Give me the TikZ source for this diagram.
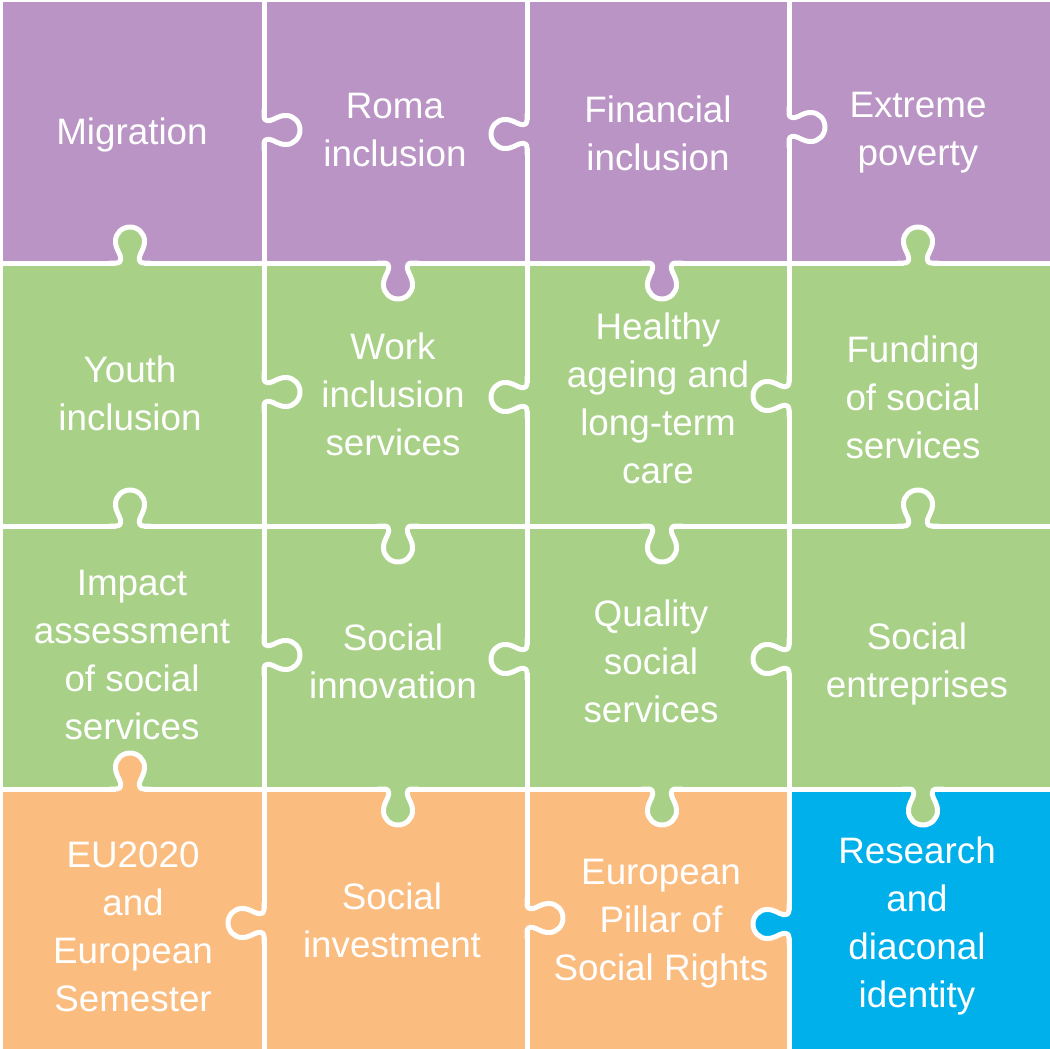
\documentclass[tikz,border=0pt]{standalone}
\usepackage{fontspec}
\setmainfont{Liberation Sans}
\definecolor{cpurple}{RGB}{185,148,196}
\definecolor{cgreen}{RGB}{168,209,135}
\definecolor{corange}{RGB}{251,188,128}
\definecolor{cblue}{RGB}{0,176,234}
\tikzset{
  edgeline/.style={white, line width=5pt, line cap=round, line join=round},
  label/.style={text=white, align=center, inner sep=0pt, font=\fontsize{36.8}{48}\selectfont},
  kdown/.style={rotate=0},
  kup/.style={rotate=180},
  kright/.style={rotate=90},
  kleft/.style={rotate=-90},
  pics/knob/.style={code={
    \fill[#1] (-14,-3) -- (-14,0) .. controls (-10,0) and (-9,2) .. (-9.5,6)
      .. controls (-10,10) and (-14.5,14) .. (-14.5,22)
      .. controls (-14.5,29.7) and (-8,36) .. (0,36)
      .. controls (8,36) and (14.5,29.7) .. (14.5,22)
      .. controls (14.5,14) and (10,10) .. (9.5,6)
      .. controls (9,2) and (10,0) .. (14,0) -- (14,-3) -- cycle;
    \draw[edgeline] (-20,0) -- (-14,0) .. controls (-10,0) and (-9,2) .. (-9.5,6)
      .. controls (-10,10) and (-14.5,14) .. (-14.5,22)
      .. controls (-14.5,29.7) and (-8,36) .. (0,36)
      .. controls (8,36) and (14.5,29.7) .. (14.5,22)
      .. controls (14.5,14) and (10,10) .. (9.5,6)
      .. controls (9,2) and (10,0) .. (14,0) -- (20,0);
  }}
}
\begin{document}
\begin{tikzpicture}[x=1pt,y=-1pt]
\useasboundingbox (0,0) rectangle (1050,1049);
\fill[white] (0,0) rectangle (1050,1049);
% cells
\fill[cpurple] (0,0) rectangle (264,263);
\fill[cpurple] (264,0) rectangle (527,263);
\fill[cpurple] (527,0) rectangle (789,263);
\fill[cpurple] (789,0) rectangle (1050,263);
\fill[cgreen] (0,263) rectangle (1050,789);
\fill[corange] (0,789) rectangle (789,1049);
\fill[cblue] (789,789) rectangle (1050,1049);
% straight edges
\draw[edgeline, line cap=butt] (0,0) -- (1050,0);
\draw[edgeline, line cap=butt] (0,0) -- (0,1049);
\draw[edgeline, line cap=butt] (264,0) -- (264,1049);
\draw[edgeline, line cap=butt] (527,0) -- (527,1049);
\draw[edgeline, line cap=butt] (789,0) -- (789,1049);
\draw[edgeline, line cap=butt] (0,263) -- (1050,263);
\draw[edgeline, line cap=butt] (0,526) -- (1050,526);
\draw[edgeline, line cap=butt] (0,789) -- (1050,789);
% knobs on vertical edges
\pic[kright] at (264,130) {knob=cpurple};
\pic[kleft]  at (527,134) {knob=cpurple};
\pic[kright] at (789,127) {knob=cpurple};
\pic[kright] at (264,392) {knob=cgreen};
\pic[kleft]  at (527,397) {knob=cgreen};
\pic[kleft]  at (789,396) {knob=cgreen};
\pic[kright] at (264,655) {knob=cgreen};
\pic[kleft]  at (527,659) {knob=cgreen};
\pic[kleft]  at (789,659) {knob=cgreen};
\pic[kleft]  at (264,923) {knob=corange};
\pic[kright] at (527,918) {knob=corange};
\pic[kleft]  at (789,924) {knob=cblue};
% knobs on horizontal edges
\pic[kup]   at (130,263) {knob=cgreen};
\pic[kdown] at (398,263) {knob=cpurple};
\pic[kdown] at (662,263) {knob=cpurple};
\pic[kup]   at (918,263) {knob=cgreen};
\pic[kup]   at (130,526) {knob=cgreen};
\pic[kdown] at (398,526) {knob=cgreen};
\pic[kdown] at (662,526) {knob=cgreen};
\pic[kup]   at (918,526) {knob=cgreen};
\pic[kup]   at (130,789) {knob=corange};
\pic[kdown] at (398,789) {knob=cgreen};
\pic[kdown] at (662,789) {knob=cgreen};
\pic[kdown] at (923,789) {knob=cgreen};
% labels
\node[label] (t11) at (132,135) {Migration};
\node[label] (t12) at (395,130) {Roma\\inclusion};
\node[label] (t13) at (658,133) {Financial\\inclusion};
\node[label] (t14) at (918,133) {Extreme\\poverty};
\node[label] (t21) at (130,393.5) {Youth\\inclusion};
\node[label] (t22) at (393,394) {Work\\inclusion\\services};
\node[label] (t23) at (658,398.5) {Healthy\\ageing and\\long-term\\care};
\node[label] (t24) at (913,397) {Funding\\of social\\services};
\node[label] (t31) at (132,655) {Impact\\assessment\\of social\\services};
\node[label] (t32) at (393,661) {Social\\innovation};
\node[label] (t33) at (651,661) {Quality\\social\\services};
\node[label] (t34) at (917,664) {Social\\entreprises};
\node[label] (t41) at (133,927) {EU2020\\and\\European\\Semester};
\node[label] (t42) at (392,920.5) {Social\\investment};
\node[label] (t43) at (661,923.5) {European\\Pillar of\\Social Rights};
\node[label] (t44) at (917,926) {Research\\and\\diaconal\\identity};
\end{tikzpicture}
\end{document}
